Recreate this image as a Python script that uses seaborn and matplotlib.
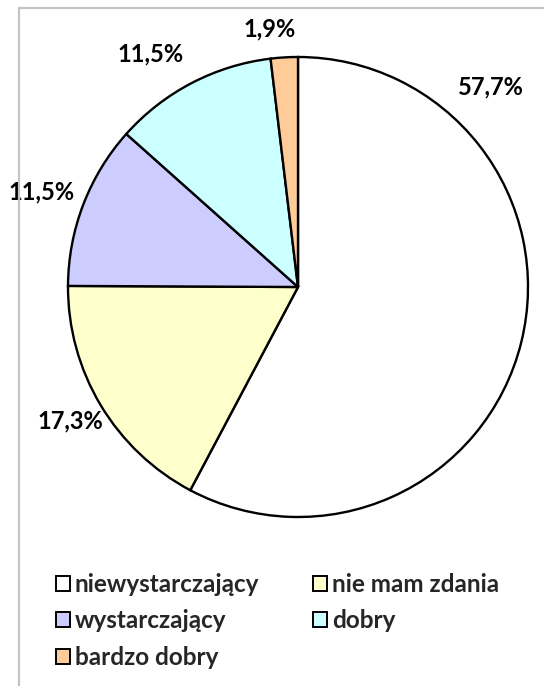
import matplotlib
matplotlib.use("Agg")
import matplotlib.pyplot as plt
from matplotlib.patches import Patch
from matplotlib.lines import Line2D
import seaborn as sns

# dane
kategorie = ['niewystarczający', 'nie mam zdania', 'wystarczający', 'dobry', 'bardzo dobry']
procenty = [57.7, 17.3, 11.5, 11.5, 1.9]
etykiety = ['57,7%', '17,3%', '11,5%', '11,5%', '1,9%']
kolory = ['#FFFFFF', '#FFFFCC', '#CCCCFF', '#CCFFFF', '#FFCC99']

# pozycje etykiet (piksele od lewej / od góry)
etykiety_xy = [(491, 87), (70, 421), (42, 192), (151, 54), (270, 29)]

sns.set_style("white")
plt.rcParams['font.family'] = ['Lato', 'DejaVu Sans']

W, H = 544, 686
fig = plt.figure(figsize=(W / 100, H / 100), dpi=100)
ax = fig.add_axes([0, 0, 1, 1])

# ramka wykresu (częściowo widoczna)
fig.add_artist(Line2D([19 / W, 19 / W], [0, 1 - 8 / H], color='#c4c4c4', lw=1.6))
fig.add_artist(Line2D([19 / W, 1], [1 - 8 / H, 1 - 8 / H], color='#c4c4c4', lw=1.6))

ax.pie(procenty, colors=kolory, startangle=90, counterclock=False,
       center=(298, H - 287), radius=230,
       wedgeprops=dict(edgecolor='black', linewidth=1.7))
ax.set_xlim(0, W)
ax.set_ylim(0, H)
ax.set_aspect('equal')
ax.axis('off')

for txt, (x, y) in zip(etykiety, etykiety_xy):
    ax.text(x, H - y, txt, ha='center', va='center', fontsize=17,
            fontweight='bold', color='black')

# legenda wierszami: kolejność kolumnowa
kolejnosc = [0, 2, 4, 1, 3]
uchwyty = [Patch(facecolor=kolory[i], edgecolor='black', linewidth=1.4) for i in kolejnosc]
nazwy = [kategorie[i] for i in kolejnosc]
fig.legend(uchwyty, nazwy, ncol=2, loc='upper left',
           bbox_to_anchor=(56 / W, 1 - 573 / H), frameon=False,
           prop=dict(size=17.5, weight='bold'),
           handlelength=0.58, handleheight=0.58, handletextpad=0.2,
           columnspacing=2.2, labelspacing=0.55, borderpad=0, borderaxespad=0)

fig.savefig('out.png', dpi=100, facecolor='white')
